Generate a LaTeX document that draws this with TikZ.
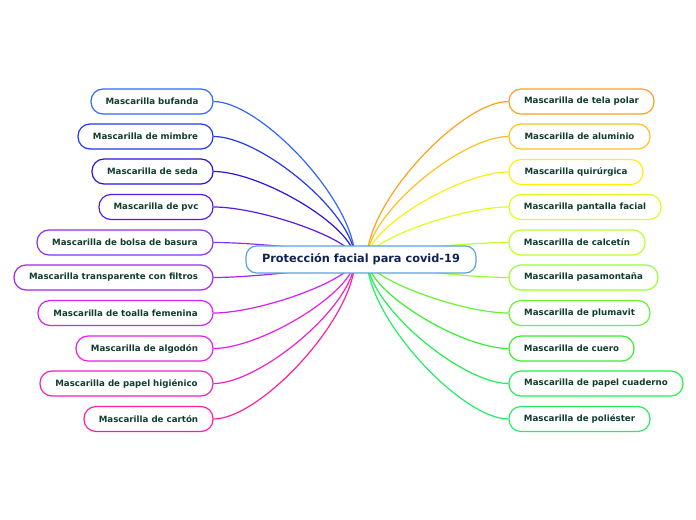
\documentclass[tikz,border=0pt]{standalone}
\usepackage{fontspec}
\setmainfont{DejaVu Sans}
\usetikzlibrary{calc}
\pgfdeclarelayer{bg}
\pgfsetlayers{bg,main}
\definecolor{leaftext}{HTML}{0F3D2E}
\definecolor{roottext}{HTML}{112255}
\definecolor{rootline}{HTML}{5BA3DB}
\definecolor{la}{HTML}{3366FF}
\definecolor{lb}{HTML}{2238EE}
\definecolor{lc}{HTML}{2A14E0}
\definecolor{ld}{HTML}{5A1AE8}
\definecolor{le}{HTML}{8A30F0}
\definecolor{lf}{HTML}{A424F0}
\definecolor{lg}{HTML}{D022F0}
\definecolor{lh}{HTML}{E620E6}
\definecolor{li}{HTML}{F020C8}
\definecolor{lj}{HTML}{FF20A0}
\definecolor{ra}{HTML}{FFA020}
\definecolor{rb}{HTML}{FFC020}
\definecolor{rc}{HTML}{FFEE10}
\definecolor{rd}{HTML}{DDFF20}
\definecolor{re}{HTML}{BBFF30}
\definecolor{rf}{HTML}{99FF30}
\definecolor{rg}{HTML}{66F530}
\definecolor{rh}{HTML}{38EE33}
\definecolor{ri}{HTML}{22EE55}
\definecolor{rj}{HTML}{22EE66}
\tikzset{
  leaf/.style={draw, fill=white, rounded corners=9pt, line width=0.9pt,
    minimum height=18.75pt, inner sep=0pt, text=leaftext,
    font=\fontsize{6.5}{8}\selectfont\bfseries, minimum width=0.75pt*#1},
  root/.style={draw=rootline, fill=white, rounded corners=8pt, line width=0.9pt,
    minimum height=20.25pt, minimum width=172.5pt, inner sep=0pt, text=roottext,
    font=\fontsize{8.5}{10}\selectfont\bfseries},
  conn/.style={line width=0.9pt}
}
\begin{document}
\begin{tikzpicture}[x=0.75pt,y=-0.75pt]
\useasboundingbox (0,0) rectangle (696,520);
\node[root] (root) at (361,259.5) {Protección facial para covid-19};
\coordinate (cl) at (355,259);
\coordinate (cr) at (367,259);
% left
\node[leaf=122, draw=la] (L1) at (152,101.5) {Mascarilla bufanda};
\node[leaf=135, draw=lb] (L2) at (145.5,136.5) {Mascarilla de mimbre};
\node[leaf=121, draw=lc] (L3) at (152.5,171.5) {Mascarilla de seda};
\node[leaf=114, draw=ld] (L4) at (156,207) {Mascarilla de pvc};
\node[leaf=176, draw=le] (L5) at (125,242.5) {Mascarilla de bolsa de basura};
\node[leaf=199, draw=lf] (L6) at (113.5,277.5) {Mascarilla transparente con filtros};
\node[leaf=175, draw=lg] (L7) at (125.5,313) {Mascarilla de toalla femenina};
\node[leaf=137, draw=lh] (L8) at (144.5,348.5) {Mascarilla de algodón};
\node[leaf=173, draw=li] (L9) at (126.5,383.5) {Mascarilla de papel higiénico};
\node[leaf=129, draw=lj] (L10) at (148.5,419) {Mascarilla de cartón};
% right
\node[leaf=145, draw=ra] (R1) at (581.5,101.5) {Mascarilla de tela polar};
\node[leaf=141, draw=rb] (R2) at (579.5,136.5) {Mascarilla de aluminio};
\node[leaf=134, draw=rc] (R3) at (576,172) {Mascarilla quirúrgica};
\node[leaf=152, draw=rd] (R4) at (585,207) {Mascarilla pantalla facial};
\node[leaf=136, draw=re] (R5) at (577,242.5) {Mascarilla de calcetín};
\node[leaf=149, draw=rf] (R6) at (583.5,277.5) {Mascarilla pasamontaña};
\node[leaf=141, draw=rg] (R7) at (579.5,313) {Mascarilla de plumavit};
\node[leaf=125, draw=rh] (R8) at (571.5,348.5) {Mascarilla de cuero};
\node[leaf=174, draw=ri] (R9) at (596,383.5) {Mascarilla de papel cuaderno};
\node[leaf=141, draw=rj] (R10) at (579.5,419) {Mascarilla de poliéster};
\begin{pgfonlayer}{bg}
\foreach \n/\c in {L1/la,L2/lb,L3/lc,L4/ld,L5/le,L6/lf,L7/lg,L8/lh,L9/li,L10/lj}
  \draw[conn, draw=\c] (\n.east) .. controls ($(\n.east)!0.33!(\n.east -| cl)$) and ($(cl |- \n.east)!0.63!(cl)$) .. (cl);
\foreach \n/\c in {R1/ra,R2/rb,R3/rc,R4/rd,R5/re,R6/rf,R7/rg,R8/rh,R9/ri,R10/rj}
  \draw[conn, draw=\c] (\n.west) .. controls ($(\n.west)!0.33!(\n.west -| cr)$) and ($(cr |- \n.west)!0.63!(cr)$) .. (cr);
\end{pgfonlayer}
\end{tikzpicture}
\end{document}
